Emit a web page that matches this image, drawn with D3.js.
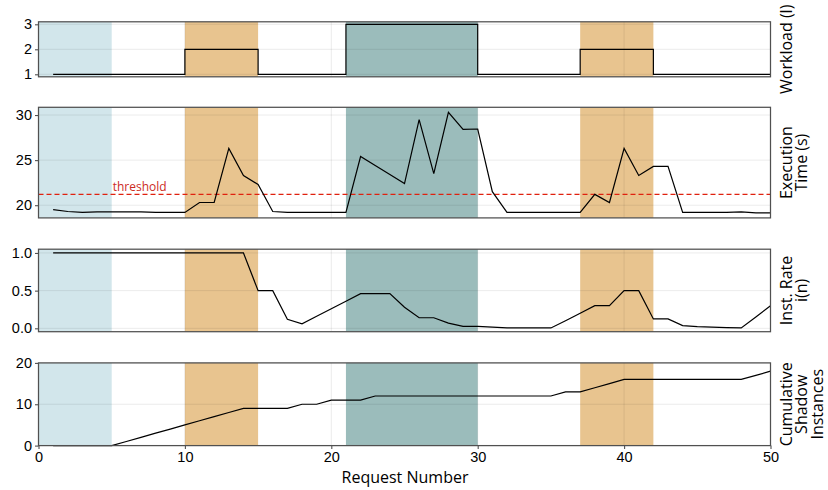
<!DOCTYPE html>
<html><head><meta charset="utf-8">
<script src="https://cdn.jsdelivr.net/npm/d3@7"></script>
<style>body{margin:0;background:#fff;}svg{display:block;font-family:"Open Sans","Noto Sans",sans-serif;}</style>
</head><body><svg id="c" width="828" height="490"></svg>
<script>
const requests = [1,2,3,4,5,6,7,8,9,10,11,12,13,14,15,16,17,18,19,20,21,22,23,24,25,26,27,28,29,30,31,32,33,34,35,36,37,38,39,40,41,42,43,44,45,46,47,48,49,50];
const workload = [1,1,1,1,1,1,1,1,1,2,2,2,2,2,1,1,1,1,1,1,3,3,3,3,3,3,3,3,3,1,1,1,1,1,1,1,2,2,2,2,2,1,1,1,1,1,1,1,1,1];
const execTime = [19.5,19.3,19.2,19.25,19.25,19.25,19.25,19.2,19.2,19.2,20.3,20.3,26.3,23.3,22.3,19.3,19.2,19.2,19.2,19.2,19.2,25.4,24.4,23.4,22.4,29.5,23.5,30.3,28.4,28.45,21.5,19.2,19.2,19.2,19.2,19.2,19.2,21.2,20.3,26.3,23.3,24.3,24.3,19.2,19.2,19.2,19.2,19.25,19.15,19.15];
const instRate = [1,1,1,1,1,1,1,1,1,1,1,1,1,1,0.5,0.5,0.12,0.06,0.16,0.26,0.36,0.46,0.46,0.46,0.28,0.14,0.14,0.07,0.025,0.025,0.015,0.005,0.005,0.005,0.005,0.1,0.2,0.3,0.3,0.5,0.5,0.125,0.125,0.036,0.023,0.015,0.01,0.005,0.15,0.3];
const cumShadow = [0,0,0,0,0,1,2,3,4,5,6,7,8,9,9,9,9,10,10,11,11,11,12,12,12,12,12,12,12,12,12,12,12,12,12,13,13,14,15,16,16,16,16,16,16,16,16,16,17,18];
const threshold = 21.2;
const phaseStart = [0,10,21,37];
const phaseEnd = [5,15,30,42];
const phaseColor = ["#d2e6eb","#e8c48f","#9bbcbb","#e8c48f"];
const xTicks = [0,10,20,30,40,50];

const svg = d3.select("#c");
const L = 38.5, R = 770.5;
const x = d3.scaleLinear().domain([0,50]).range([L,R]);
const SP = "#505050";

function pad(vals){const mn=d3.min(vals),mx=d3.max(vals),m=(mx-mn)*0.05;return [mn-m,mx+m];}

const panels = [
  {vals:workload, top:21.8, bot:76.8, domain:pad(workload), ticks:[1,2,3], fmt:d3.format("d"), label:["Workload (l)"], step:true},
  {vals:execTime, top:107.3, bot:217.9, domain:pad(execTime), ticks:[20,25,30], fmt:d3.format("d"), label:["Execution","Time (s)"], thr:true},
  {vals:instRate, top:249.2, bot:331.7, domain:pad(instRate), ticks:[0,0.5,1], fmt:d3.format(".1f"), label:["Inst. Rate","i(n)"]},
  {vals:cumShadow, top:362.9, bot:445.6, domain:[0,20], ticks:[0,10,20], fmt:d3.format("d"), label:["Cumulative","Shadow","Instances"], xaxis:true}
];

panels.forEach(p=>{
  const y = d3.scaleLinear().domain(p.domain).range([p.bot,p.top]);
  const g = svg.append("g");
  phaseStart.forEach((s,i)=>{
    g.append("rect").attr("x",x(s)).attr("y",p.top).attr("width",x(phaseEnd[i])-x(s)).attr("height",p.bot-p.top).attr("fill",phaseColor[i]);
  });
  const gg = g.append("g").attr("stroke","#000").attr("stroke-opacity",0.08).attr("stroke-width",1);
  xTicks.slice(1,-1).forEach(t=>gg.append("line").attr("x1",x(t)).attr("x2",x(t)).attr("y1",p.top).attr("y2",p.bot));
  p.ticks.forEach(t=>gg.append("line").attr("x1",L).attr("x2",R).attr("y1",y(t)).attr("y2",y(t)));
  if(p.thr){
    g.append("line").attr("x1",L).attr("x2",R).attr("y1",y(threshold)).attr("y2",y(threshold))
      .attr("stroke","#e0210f").attr("stroke-width",1.2).attr("stroke-dasharray","5,3");
    g.append("text").attr("x",x(5)+1).attr("y",y(threshold)-3.5).attr("font-size",12).attr("fill","#cc2b1d").text("threshold");
  }
  const line = d3.line().x((d,i)=>x(requests[i])).y(d=>y(d));
  if(p.step) line.curve(d3.curveStepAfter);
  g.append("path").datum(p.vals).attr("d",line).attr("fill","none").attr("stroke","#000").attr("stroke-width",1.2);
  g.append("rect").attr("x",L).attr("y",p.top).attr("width",R-L).attr("height",p.bot-p.top)
    .attr("fill","none").attr("stroke",SP).attr("stroke-width",1.25);
  const ya = g.append("g").attr("transform",`translate(${L},0)`).call(d3.axisLeft(y).tickValues(p.ticks).tickFormat(p.fmt).tickSize(3.5).tickPadding(3));
  ya.select(".domain").remove();
  ya.selectAll("line").attr("stroke",SP).attr("stroke-width",1.1);
  ya.selectAll("text").attr("font-size",14.5).attr("fill","#000").attr("font-family",null);
  if(p.xaxis){
    const xa = g.append("g").attr("transform",`translate(0,${p.bot})`).call(d3.axisBottom(x).tickValues(xTicks).tickFormat(d3.format("d")).tickSize(3.5).tickPadding(2.5));
    xa.select(".domain").remove();
    xa.selectAll("line").attr("stroke",SP).attr("stroke-width",1.1);
    xa.selectAll("text").attr("font-size",14.5).attr("fill","#000").attr("font-family",null);
    g.append("text").attr("x",(L+R)/2+0.5).attr("y",483).attr("text-anchor","middle").attr("font-size",16).attr("fill","#000").text("Request Number");
  }
  const cy = (p.top+p.bot)/2;
  p.label.forEach((t,i)=>{
    g.append("text").attr("transform",`translate(${785.5+i*15.5},${cy}) rotate(-90)`)
      .attr("text-anchor","middle").attr("dominant-baseline","central").attr("font-size",16).attr("fill","#000").text(t);
  });
});
</script></body></html>
